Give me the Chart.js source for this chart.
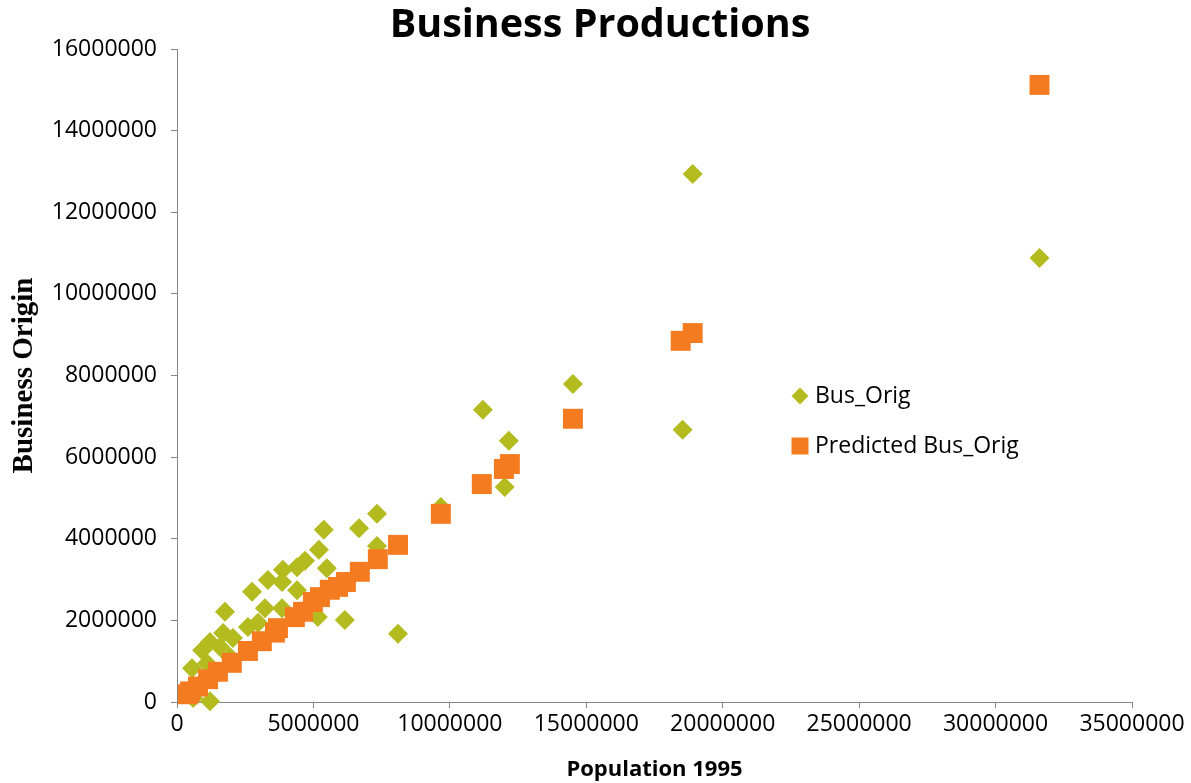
<!DOCTYPE html>
<html>
<head>
<meta charset="utf-8">
<script src="https://cdn.jsdelivr.net/npm/chart.js@4.4.1/dist/chart.umd.min.js"></script>
<style>
  html, body { margin: 0; padding: 0; background: #ffffff; }
  #wrap { width: 1191px; height: 783px; position: relative; }
</style>
</head>
<body>
<div id="wrap"><canvas id="chart" width="1191" height="783"></canvas></div>
<script>
// Observed business origins by 1995 population
const popOrig = [31610000, 18900000, 18530000, 14510000, 11210000, 12160000, 12010000, 9670000,
  8100000, 7330000, 7330000, 6670000, 6150000, 5380000, 5200000, 4690000, 5490000, 4400000,
  3880000, 3330000, 3850000, 2750000, 4400000, 3220000, 1760000, 3850000, 5160000, 2600000,
  2970000, 1690000, 2050000, 1210000, 920000, 1580000, 550000, 1210000, 590000, 1940000, 1100000];
const busOrig = [10880000, 12940000, 6670000, 7790000, 7160000, 6400000, 5270000, 4780000,
  1670000, 4610000, 3820000, 4260000, 2010000, 4220000, 3730000, 3460000, 3280000, 3300000,
  3240000, 2990000, 2940000, 2700000, 2740000, 2300000, 2210000, 2300000, 2080000, 1840000,
  1940000, 1690000, 1570000, 1470000, 1270000, 1350000, 830000, 20000, 100000, 1100000, 950000];

// Model predictions
const popPred = [31610000, 18900000, 18460000, 14510000, 12200000, 11980000, 11170000, 9670000,
  8100000, 7360000, 6700000, 6190000, 5900000, 5600000, 5240000, 4980000, 4620000, 4320000,
  3700000, 3590000, 3110000, 2600000, 2010000, 1500000, 1140000, 770000, 480000, 400000];
const busPred = [15120000, 9040000, 8850000, 6940000, 5830000, 5710000, 5340000, 4610000,
  3850000, 3500000, 3190000, 2940000, 2820000, 2750000, 2570000, 2450000, 2210000, 2080000,
  1810000, 1700000, 1490000, 1250000, 960000, 740000, 560000, 380000, 260000, 190000];

const chartTitle = 'Business Productions';
const seriesNames = ['Bus_Orig', 'Predicted Bus_Orig'];
const xTicks = { min: 0, max: 35000000, step: 5000000 };
const yTicks = { min: 0, max: 16000000, step: 2000000 };

const GREEN = '#b3bb1e';
const ORANGE = '#f47b20';
const AXIS = '#868686';
const SANS = '"Open Sans", Lato, sans-serif';

const toPoints = (xs, ys) => xs.map((x, i) => ({ x: x, y: ys[i] }));

// Heading across the page plus a legend placed inside the plot area
const headingAndLegend = {
  id: 'headingAndLegend',
  afterDraw(chart) {
    const ctx = chart.ctx;
    const ds = chart.data.datasets;
    ctx.save();

    ctx.font = 'bold 39.5px ' + SANS;
    ctx.textAlign = 'center';
    ctx.textBaseline = 'alphabetic';
    ctx.fillStyle = '#000';
    ctx.fillText(chartTitle, 600, 37);

    const items = [
      { ds: ds[0], y: 396 },
      { ds: ds[1], y: 446 }
    ];
    ctx.font = '23px ' + SANS;
    ctx.textAlign = 'left';
    ctx.textBaseline = 'middle';
    items.forEach(it => {
      const cx = 800;
      ctx.fillStyle = it.ds.backgroundColor;
      ctx.beginPath();
      if (it.ds.pointStyle === 'rectRot') {
        const r = 8.5;
        ctx.moveTo(cx - r, it.y); ctx.lineTo(cx, it.y - r);
        ctx.lineTo(cx + r, it.y); ctx.lineTo(cx, it.y + r);
      } else {
        ctx.rect(cx - 8.5, it.y - 8.5, 17, 17);
      }
      ctx.closePath();
      ctx.fill();
      ctx.fillStyle = '#000';
      ctx.fillText(it.ds.label, 815, it.y);
    });
    ctx.restore();
  }
};

new Chart(document.getElementById('chart'), {
  type: 'scatter',
  data: {
    datasets: [
      {
        label: seriesNames[0],
        data: toPoints(popOrig, busOrig),
        pointStyle: 'rectRot',
        pointRadius: 10,
        backgroundColor: GREEN,
        borderColor: GREEN,
        borderWidth: 0,
        order: 1,
        clip: false
      },
      {
        label: seriesNames[1],
        data: toPoints(popPred, busPred),
        pointStyle: 'rect',
        pointRadius: 14.1,
        backgroundColor: ORANGE,
        borderColor: ORANGE,
        borderWidth: 0,
        order: 0,
        clip: false
      }
    ]
  },
  options: {
    responsive: false,
    animation: false,
    events: [],
    layout: { padding: { left: 0, right: 59, top: 49, bottom: 0 } },
    plugins: {
      legend: { display: false },
      tooltip: { enabled: false },
      title: { display: false }
    },
    scales: {
      x: {
        type: 'linear',
        min: xTicks.min,
        max: xTicks.max,
        border: { display: true, color: AXIS, width: 1 },
        grid: { drawOnChartArea: false, drawTicks: true, tickLength: 6, color: AXIS },
        ticks: {
          stepSize: xTicks.step,
          color: '#000',
          font: { family: SANS, size: 23 },
          padding: 3,
          maxRotation: 0,
          callback: v => String(v)
        },
        title: {
          display: true,
          text: 'Population 1995',
          color: '#000',
          font: { family: SANS, size: 22, weight: 'bold' },
          padding: { top: 1, bottom: 0 }
        },
        afterFit(scale) { scale.height = 81; }
      },
      y: {
        type: 'linear',
        min: yTicks.min,
        max: yTicks.max,
        border: { display: true, color: AXIS, width: 1 },
        grid: { drawOnChartArea: false, drawTicks: true, tickLength: 6, color: AXIS },
        ticks: {
          stepSize: yTicks.step,
          color: '#000',
          font: { family: SANS, size: 23 },
          padding: 14,
          callback: v => String(v)
        },
        title: {
          display: true,
          text: 'Business Origin',
          color: '#000',
          font: { family: '"Liberation Serif", "Times New Roman", serif', size: 29, weight: 'bold' },
          padding: { top: 7, bottom: 4 }
        },
        afterFit(scale) { scale.width = 177; }
      }
    }
  },
  plugins: [headingAndLegend]
});
</script>
</body>
</html>
